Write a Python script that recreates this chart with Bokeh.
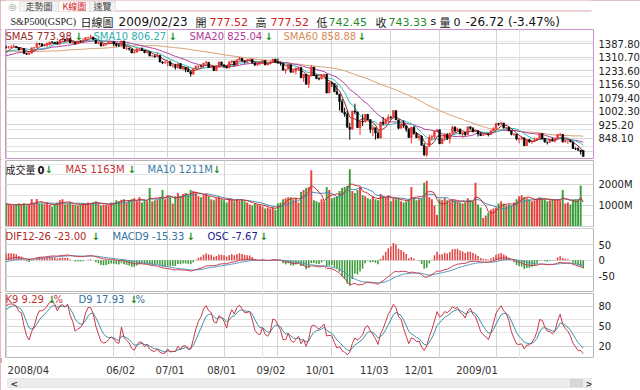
import numpy as np
import pandas as pd
from bokeh.plotting import figure
from bokeh.layouts import column
from bokeh.models import (Range1d, LinearAxis, FixedTicker, PrintfTickFormatter,
                          Label, ColumnDataSource, Grid, BoxAnnotation)
from bokeh.embed import file_html
from bokeh.resources import INLINE

# ---------------- data (S&P500 daily) ----------------
# history before the visible window (Jan 2 - Apr 1 2008), used by the indicators
hist_close = [1447,1447,1411,1416,1390,1409,1420,1401,1416,1380,1373,1334,1325,1310,1339,1352,1331,1353,1362,1355,1378,
              1395,1380,1336,1326,1336,1331,1339,1349,1367,1348,1349,1348,1360,1343,1353,1371,1381,1380,1367,1331,
              1331,1327,1333,1304,1294,1273,1321,1308,1316,1289,1277,1330,1299,1329,1350,1352,1341,1325,1316,1323,
              1370]
hist_high = [1471,1456,1444,1422,1427,1416,1423,1420,1420,1414,1391,1383,1351,1323,1340,1362,1368,1354,1368,1372,1385,
             1396,1395,1380,1339,1341,1341,1341,1350,1368,1370,1351,1367,1365,1361,1354,1372,1388,1388,1381,1367,
             1336,1332,1344,1333,1310,1299,1321,1333,1322,1322,1285,1330,1330,1333,1360,1357,1352,1343,1334,1328,
             1370]
hist_low = [1442,1443,1409,1396,1388,1388,1399,1398,1403,1380,1365,1332,1318,1271,1290,1330,1330,1323,1339,1350,1334,
            1372,1380,1336,1324,1317,1321,1329,1335,1349,1346,1339,1343,1338,1327,1316,1348,1367,1374,1362,1326,
            1315,1306,1321,1300,1270,1272,1277,1306,1276,1275,1256,1279,1298,1298,1329,1342,1338,1324,1312,1313,
            1326]

# visible window: 2008/04/02 .. 2009/02/23
opens = [1370,1368,1369,1370,1373,1366,1354,1361,1333,1328,1334,1365,1366,1390,1388,1376,1380,1389,1398,1396,1391,
         1386,1409,1414,1407,1418,1393,1398,1388,1404,1403,1409,1424,1425,1427,1413,1391,1394,1376,1385,1391,1398,
         1400,1386,1378,1377,1404,1361,1362,1358,1335,1340,1360,1360,1351,1338,1343,1318,1318,1314,1322,1283,1278,
         1280,1285,1262,1263,1252,1274,1245,1253,1239,1228,1215,1245,1260,1261,1260,1277,1282,1253,1258,1234,1263,1284,
         1267,1260,1249,1285,1289,1266,1296,1305,1290,1286,1293,1298,1279,1267,1275,1278,1292,1267,1272,1282,1301,
         1283,1278,1275,1237,1242,1268,1225,1232,1249,1252,1193,1214,1156,1207,1255,1207,1188,1186,1209,1213,1106,
         1166,1161,1114,1099,1057,996,985,910,899,1003,998,908,946,941,985,955,897,908,877,849,941,930,954,
         969,966,1006,953,905,931,919,899,852,911,873,851,859,807,752,800,852,857,888,
         896,816,849,871,845,876,910,889,899,874,880,869,913,904,885,888,872,863,868,873,869,891,
         903,932,927,935,907,910,890,870,872,843,844,850,805,840,828,832,837,846,874,845,
         826,825,839,832,846,869,870,827,834,835,827,789,788,779,778]
highs = [1377,1375,1381,1386,1373,1368,1367,1361,1335,1337,1365,1369,1395,1390,1388,1387,1396,1400,1403,1397,1404,
         1410,1422,1415,1421,1420,1404,1398,1405,1407,1420,1424,1427,1440,1427,1420,1400,1394,1388,1393,1404,1404,
         1400,1393,1389,1405,1404,1371,1366,1360,1354,1361,1364,1367,1351,1348,1343,1325,1325,1336,1322,1288,1290,
         1285,1292,1272,1273,1275,1277,1258,1253,1254,1234,1246,1263,1263,1268,1277,1291,1282,1263,1260,1264,1285,1285,
         1271,1260,1285,1292,1289,1297,1313,1306,1294,1301,1301,1301,1279,1276,1281,1294,1292,1276,1290,1301,1301,
         1304,1281,1275,1244,1274,1270,1243,1250,1256,1252,1215,1214,1211,1265,1255,1214,1197,1216,1215,1213,1169,
         1167,1161,1153,1099,1072,1022,1005,936,1006,1045,999,947,985,985,985,955,922,908,893,941,969,963,984,
         975,1007,1006,953,931,951,919,899,913,917,882,866,865,820,801,868,868,888,896,
         896,850,875,876,879,919,917,909,904,882,884,914,914,911,898,888,881,870,875,874,892,910,
         934,936,943,935,911,912,890,877,872,852,859,850,841,840,838,852,850,877,874,851,
         826,843,851,850,870,878,870,839,836,839,827,795,797,779,778]
lows = [1360,1360,1362,1369,1363,1350,1351,1330,1324,1324,1334,1357,1366,1379,1370,1372,1370,1379,1394,1386,1384,
        1383,1406,1404,1397,1392,1389,1384,1386,1396,1403,1405,1418,1421,1409,1388,1386,1372,1373,1376,1388,1395,
        1373,1370,1371,1377,1360,1351,1348,1335,1334,1340,1350,1350,1333,1332,1317,1314,1308,1314,1283,1272,1274,
        1260,1261,1252,1240,1245,1244,1236,1225,1226,1200,1210,1241,1249,1255,1249,1276,1251,1251,1234,1234,1263,1264,
        1251,1247,1249,1276,1264,1262,1293,1287,1275,1276,1292,1276,1260,1263,1264,1278,1265,1264,1271,1282,1282,
        1273,1263,1236,1217,1242,1224,1221,1212,1234,1192,1170,1156,1134,1207,1205,1187,1179,1186,1187,1106,1106,
        1140,1111,1098,1007,996,970,909,839,899,984,907,866,918,938,952,877,859,840,846,846,922,928,930,
        955,966,951,899,905,907,884,850,818,869,848,834,806,747,741,800,834,845,881,
        815,816,833,837,818,876,882,887,871,851,860,868,896,881,883,857,860,862,866,858,869,889,
        899,919,927,902,897,887,864,862,836,818,836,804,804,821,815,828,835,846,844,822,
        812,821,829,823,845,860,822,823,814,825,786,780,777,754,742]
closes = [1368,1369,1370,1373,1366,1354,1361,1333,1328,1334,1365,1366,1390,1388,1376,1380,1389,1398,1396,1391,1386,
          1409,1414,1407,1418,1393,1398,1388,1404,1403,1409,1424,1425,1427,1413,1391,1394,1376,1385,1391,1398,1400,
          1386,1378,1377,1404,1361,1362,1358,1335,1340,1360,1360,1351,1338,1343,1318,1318,1314,1322,1283,1278,1280,
          1285,1262,1263,1252,1274,1245,1253,1239,1228,1215,1245,1260,1261,1260,1277,1282,1253,1258,1234,1263,1284,1267,
          1260,1249,1285,1289,1266,1296,1305,1290,1286,1293,1298,1279,1267,1275,1278,1292,1267,1272,1282,1301,1283,
          1278,1275,1237,1242,1268,1225,1232,1249,1252,1193,1214,1156,1207,1255,1207,1188,1186,1209,1213,1106,1166,
          1161,1114,1099,1057,996,985,910,899,1003,998,908,946,941,985,955,897,908,877,849,941,930,954,969,
          966,1006,953,905,931,919,899,852,911,873,851,859,807,752,800,852,857,888,896,
          816,849,871,845,876,910,889,899,874,880,869,913,904,885,888,872,863,868,873,869,891,903,
          932,927,935,907,910,890,870,872,843,844,850,805,840,828,832,837,846,874,845,826,
          825,839,832,846,869,870,827,834,835,827,789,788,779,770,743]
volume_m = [1080,1050,1010,1000,1070,1100,1040,1100,1000,1050,1300,1120,1320,1080,1090,1060,1120,1040,950,1050,1150,
            1250,1300,1050,1100,1150,1050,1020,1000,1050,1080,1100,1150,1100,1150,1200,1100,1000,1050,1030,1000,1150,
            1150,1250,1200,1280,1300,1150,1250,1300,1350,1200,1400,1150,1250,1200,1850,1200,1250,1300,1350,1750,1300,
            1500,1400,1100,1450,1600,1450,1550,1600,1500,1750,1700,1650,1450,1400,1500,1550,1450,1300,1250,1350,1400,1300,
            1250,1150,1350,1300,1200,1300,1250,1300,1200,1150,1050,1000,1100,1050,1000,950,850,900,850,900,800,
            1100,1150,1300,1350,1400,1400,1300,1350,1150,1650,1750,1850,1900,2700,1250,1200,1150,1300,1200,1900,1750,
            1350,1400,1450,1700,1850,1900,1950,2750,1700,1600,1750,1900,1500,1450,1350,1300,1450,1300,1250,1550,1450,1400,1500,
            1200,1350,1300,1350,1200,1150,1200,1300,1900,1350,1250,1300,1350,2100,2200,1400,1300,1000,550,
            1300,1250,1350,1250,1200,1300,1250,1200,1150,1100,1150,1350,1250,1200,2100,1050,900,400,500,650,800,850,
            900,1100,1200,1100,1000,1050,1000,1150,1300,1450,1500,1400,1350,1300,1200,1250,1300,1400,1350,1300,
            1200,1250,1300,1250,1300,1250,1750,1100,1150,1045,1250,1300,1300,1965,0]

tick_idx = [0, 42, 63, 85, 106, 127, 150, 169, 191]
tick_lbl = ["2008/04", "06/02", "07/01", "08/01", "09/02", "10/01", "11/03", "12/01", "2009/01"]
price_grid = [771.0, 848.1, 925.2, 1002.3, 1079.4, 1156.5, 1233.6, 1310.7, 1387.8]
price_ticks = [848.1, 925.2, 1002.3, 1079.4, 1156.5, 1233.6, 1310.7, 1387.8]
vol_ticks = [1000, 2000]
macd_ticks = [-50, 0, 50]
kd_ticks = [20, 50, 80]

N = len(closes)
for arr in (opens, highs, lows, volume_m):
    assert len(arr) == N, len(arr)
assert len(hist_high) == len(hist_close) == len(hist_low)

# ---------------- indicators ----------------
nh = len(hist_close)
C_all = pd.Series(np.array(hist_close + closes, dtype=float))
H_all = pd.Series(np.array(hist_high + highs, dtype=float))
L_all = pd.Series(np.array(hist_low + lows, dtype=float))
sma = {n: C_all.rolling(n, min_periods=1).mean().values[nh:] for n in (5, 10, 20, 60)}
ema12 = C_all.ewm(span=12, adjust=False).mean()
ema26 = C_all.ewm(span=26, adjust=False).mean()
dif_all = ema12 - ema26
sig_all = dif_all.ewm(span=9, adjust=False).mean()
dif = dif_all.values[nh:]
sig = sig_all.values[nh:]
osc = dif - sig
hh = H_all.rolling(9, min_periods=1).max().values
ll = L_all.rolling(9, min_periods=1).min().values
rsv = (C_all.values - ll) / np.where(hh - ll == 0, 1, hh - ll) * 100
K = np.zeros(len(rsv)); D = np.zeros(len(rsv))
k, d = 50.0, 50.0
for i, r in enumerate(rsv):
    k = k * 2 / 3 + r / 3
    d = d * 2 / 3 + k / 3
    K[i], D[i] = k, d
K = K[nh:]; D = D[nh:]
vol_s = pd.Series(np.array(volume_m, dtype=float))
vma5 = vol_s.rolling(5, min_periods=1).mean().values
vma10 = vol_s.rolling(10, min_periods=1).mean().values

x = np.arange(N)
o = np.array(opens, float); c = np.array(closes, float)
up = c >= o
candle_col = ["#ec3430" if u else "#000000" for u in up]
vol_col = ["#e8403c" if u else "#3a9e3a" for u in up]
osc_col = ["#e04444" if v >= 0 else "#3a9a3a" for v in osc]

FONT = "DejaVu Sans"
CJK = "Noto Sans CJK TC"
GRID = "#d4d4d4"
XR = Range1d(-0.2, 229.0)
FW = 588


def panel(fh, top, bottom, yr, outline):
    p = figure(frame_width=FW, frame_height=fh, x_range=XR, y_range=yr, toolbar_location=None,
               output_backend="svg", min_border_left=5, min_border_right=47,
               min_border_top=top, min_border_bottom=bottom,
               x_axis_location=None, y_axis_location=None)
    p.outline_line_color = outline
    p.background_fill_color = "white"
    p.border_fill_color = "white"
    p.add_layout(Grid(dimension=0, ticker=FixedTicker(ticks=tick_idx), grid_line_color=GRID))
    return p


def hgrid(p, ticks):
    p.add_layout(Grid(dimension=1, ticker=FixedTicker(ticks=ticks), grid_line_color=GRID))


def right_axis(p, ticks, fmt):
    ax = LinearAxis(ticker=FixedTicker(ticks=ticks), formatter=PrintfTickFormatter(format=fmt))
    ax.axis_line_color = None
    ax.major_tick_line_color = None
    ax.minor_tick_line_color = None
    ax.major_tick_out = 0
    ax.major_tick_in = 0
    ax.major_label_standoff = 5
    ax.major_label_text_font = FONT
    ax.major_label_text_font_size = "10px"
    ax.major_label_text_color = "#222222"
    p.add_layout(ax, "right")


def lab(p, sx, sy, text, color, size="10px", font=FONT, style="normal", xu="screen"):
    p.add_layout(Label(x=sx, y=sy, x_units=xu, y_units="screen", text=text, text_color=color,
                       text_font=font, text_font_size=size, text_font_style=style,
                       text_align="left", text_baseline="middle"))


def box(p, l, r, b, t, color, line=None):
    p.add_layout(BoxAnnotation(left=l, right=r, bottom=b, top=t, left_units="screen",
                               right_units="screen", bottom_units="screen", top_units="screen",
                               fill_color=color, fill_alpha=1.0, line_color=line))


ARROW = "#1a8c1a"

# ---------------- header ----------------
h0 = figure(width=640, height=29, x_range=Range1d(0, 1), y_range=Range1d(0, 1), toolbar_location=None,
            output_backend="svg", min_border=0, x_axis_location=None, y_axis_location=None)
h0.outline_line_color = None
h0.grid.visible = False
box(h0, 110, 640, 18, 19, "#d8a8a8")
box(h0, 14, 53, 18, 28, "#f2f2f2", line="#b8b8b8")
box(h0, 53, 84, 18, 28, "#ffffff", line="#d8a8a8")
box(h0, 84, 110, 18, 28, "#f2f2f2", line="#b8b8b8")
lab(h0, 3, 23, "◎", "#909090", size="9px")
hy = 8
lab(h0, 5, hy, "S&P500(GSPC)", "#222222", size="10px", font="Liberation Serif")
lab(h0, 75, hy, "日線圖", "#222222", size="11px", font=CJK)
lab(h0, 113, hy, "2009/02/23", "#111111", size="12px")
lab(h0, 190, hy, "開", "#222222", size="11px", font=CJK)
lab(h0, 204, hy, "777.52", "#d02020", size="11px")
lab(h0, 250, hy, "高", "#222222", size="11px", font=CJK)
lab(h0, 265, hy, "777.52", "#d02020", size="11px")
lab(h0, 311, hy, "低", "#222222", size="11px", font=CJK)
lab(h0, 323, hy, "742.45", "#2a8a2a", size="11px")
lab(h0, 370, hy, "收", "#222222", size="11px", font=CJK)
lab(h0, 383, hy, "743.33", "#2a8a2a", size="11px")
lab(h0, 425, hy, "s", "#111111", size="11px")
lab(h0, 434, hy, "量", "#222222", size="11px", font=CJK)
lab(h0, 448, hy, "0", "#111111", size="11px")
lab(h0, 460, hy, "-26.72 (-3.47%)", "#111111", size="12px")
ty = 23
lab(h0, 20, ty, "走勢圖", "#444444", size="9px", font=CJK)
lab(h0, 57, ty, "K線圖", "#d02020", size="9px", font=CJK)
lab(h0, 88, ty, "速覽", "#444444", size="9px", font=CJK)

# ---------------- price panel ----------------
FH1 = 129
p1 = panel(FH1, 0, 1, Range1d(731.7, 1469.6), "#c890cc")
hgrid(p1, price_grid)
right_axis(p1, price_ticks, "%.2f")
for n, col in ((60, "#d8a070"), (20, "#b040a0"), (10, "#30b8b8"), (5, "#8a2c2c")):
    p1.line(x, sma[n], line_color=col, line_width=1)
src = ColumnDataSource(dict(x=x, h=highs, l=lows, top=np.maximum(o, c), bot=np.minimum(o, c), col=candle_col))
p1.segment("x", "h", "x", "l", line_color="col", line_width=1, source=src)
p1.vbar("x", 0.7, "top", "bot", fill_color="col", line_color="col", line_width=0.5, source=src)
ly = FH1 - 7
lab(p1, 0, ly, "SMA5 773.98", "#9a2c2c")
lab(p1, 69, ly, "↓", ARROW, style="bold")
lab(p1, 88, ly, "SMA10 806.27", "#30b0b0")
lab(p1, 163, ly, "↓", ARROW, style="bold")
lab(p1, 184, ly, "SMA20 825.04", "#b03898")
lab(p1, 259, ly, "↓", ARROW, style="bold")
lab(p1, 278, ly, "SMA60 858.88", "#d88a58")
lab(p1, 352, ly, "↓", ARROW, style="bold")

# ---------------- volume panel ----------------
FH2 = 66
p2 = panel(FH2, 1, 1, Range1d(-14, 3174), "#b8b8b8")
hgrid(p2, vol_ticks)
right_axis(p2, vol_ticks, "%dM")
p2.vbar(x=x, width=0.75, top=volume_m, bottom=0, fill_color=vol_col, line_color=None)
p2.line(x, vma10, line_color="#4a88b0", line_width=1)
p2.line(x, vma5, line_color="#c83030", line_width=1)
ly = FH2 - 9
lab(p2, 0, ly, "成交量", "#222222", font=CJK)
lab(p2, 32, ly, "0", "#111111", style="bold")
lab(p2, 39, ly, "↓", ARROW, style="bold")
lab(p2, 60, ly, "MA5 1163M", "#c83030")
lab(p2, 122, ly, "↓", ARROW, style="bold")
lab(p2, 142, ly, "MA10 1211M", "#3a7ea8")
lab(p2, 207, ly, "↓", ARROW, style="bold")

# ---------------- MACD panel ----------------
FH3 = 64
p3 = panel(FH3, 1, 0, Range1d(-101.4, 100.5), "#b8b8b8")
# the OSC bars are drawn on their own, 3x magnified scale
p3.extra_y_ranges = {"osc": Range1d(-101.4 / 3, 100.5 / 3)}
hgrid(p3, [-50, 50])
right_axis(p3, macd_ticks, "%d")
p3.vbar(x=x, width=0.6, top=osc, bottom=0, fill_color=osc_col, line_color=None, y_range_name="osc")
p3.line(x, sig, line_color="#5a9ac0", line_width=1)
p3.line(x, dif, line_color="#c84050", line_width=1)
ly = FH3 - 8
lab(p3, 0, ly, "DIF12-26 -23.00", "#b02828")
lab(p3, 86, ly, "↓", ARROW, style="bold")
lab(p3, 107, ly, "MACD9 -15.33", "#3272a0")
lab(p3, 181, ly, "↓", ARROW, style="bold")
lab(p3, 202, ly, "OSC -7.67", "#22228a")
lab(p3, 254, ly, "↓", ARROW, style="bold")

# ---------------- KD panel ----------------
FH4 = 65
p4 = panel(FH4, 1, 0, Range1d(1.5, 99.0), "#b8b8b8")
hgrid(p4, kd_ticks)
right_axis(p4, kd_ticks, "%d")
p4.line(x, D, line_color="#3a90a8", line_width=1)
p4.line(x, K, line_color="#c83848", line_width=1)
ly = FH4 - 6
lab(p4, 0, ly, "K9 9.29", "#c83030")
lab(p4, 42, ly, "↓", ARROW, style="bold")
lab(p4, 48, ly, "%", "#c83030")
lab(p4, 73, ly, "D9 17.93", "#3272a0")
lab(p4, 124, ly, "↓", ARROW, style="bold")
lab(p4, 130, ly, "%", "#3272a0")

# ---------------- tick marks strip ----------------
p5 = figure(frame_width=FW, frame_height=4, x_range=XR, y_range=Range1d(0, 1), toolbar_location=None,
            output_backend="svg", min_border_left=5, min_border_right=47, min_border_top=0,
            min_border_bottom=0, x_axis_location=None, y_axis_location=None)
p5.outline_line_color = None
p5.add_layout(Grid(dimension=0, ticker=FixedTicker(ticks=tick_idx), grid_line_color="#888888"))

# ---------------- date labels + scroll bar ----------------
scale = FW / (XR.end - XR.start)
p6 = figure(width=640, height=28, x_range=Range1d(XR.start - 5 / scale, XR.end + 47 / scale),
            y_range=Range1d(0, 1), toolbar_location=None, output_backend="svg", min_border=0,
            x_axis_location=None, y_axis_location=None)
p6.outline_line_color = None
p6.grid.visible = False
for ti, tl in zip(tick_idx, tick_lbl):
    p6.add_layout(Label(x=ti, y=20, x_units="data", y_units="screen", text=tl, x_offset=-3,
                        text_color="#333333", text_font=FONT, text_font_size="10px",
                        text_align="left", text_baseline="middle"))
box(p6, 2, 638, 3, 12, "#ececec", line="#c8c8c8")
lab(p6, 5, 7, "<", "#333333", size="9px", style="bold")
box(p6, 565, 577, 4, 11, "#d8d8d8", line="#b0b0b0")
lab(p6, 580, 7, ">", "#333333", size="9px", style="bold")
box(p6, 589, 597, 3, 11, "#f0a040", line="#c06020")
box(p6, 600, 622, 4, 10, "#ffffff", line="#3050c0")
box(p6, 628, 636, 3, 11, "#c07030", line="#803010")

layout = column(h0, p1, p2, p3, p4, p5, p6, spacing=0,
                styles={"outline": "2px solid #d8a8a8", "outline-offset": "-2px"})
open("out.html", "w").write(file_html(layout, INLINE))
